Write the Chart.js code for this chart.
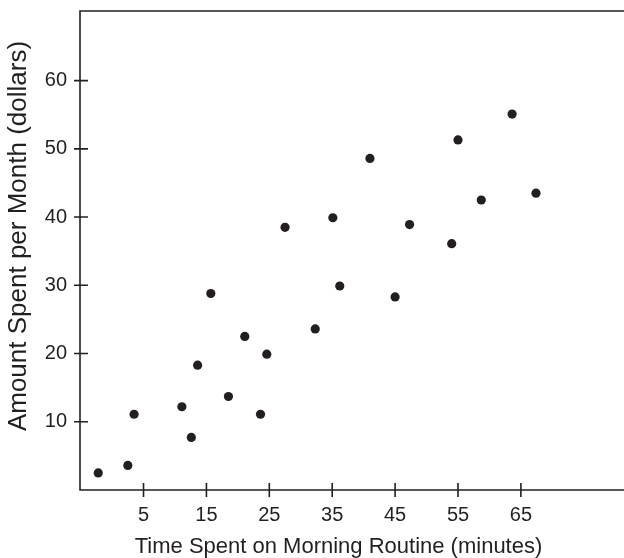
<!DOCTYPE html>
<html lang="en">
<head>
  <meta charset="UTF-8">
  <title>Morning Routine vs Amount Spent</title>
  <script src="https://cdn.jsdelivr.net/npm/chart.js"></script>
  <style>
    html, body {
      margin: 0;
      padding: 0;
      background: #ffffff;
      overflow: hidden;
    }
    .chart-box {
      position: relative;
      width: 624px;
      height: 558px;
    }
  </style>
</head>
<body>
  <div class="chart-box">
    <canvas id="scatterChart"></canvas>
  </div>

  <script>
    // Data
    const minutes = [-2.2, 2.5, 3.5, 11.1, 12.6, 13.6, 15.7, 18.5, 21.1, 23.6, 24.6, 27.5,
                     32.3, 35.1, 36.2, 41.0, 45.0, 47.3, 54.0, 55.0, 58.7, 63.6, 67.4];
    const dollars = [2.5, 3.6, 11.1, 12.2, 7.7, 18.3, 28.8, 13.7, 22.5, 11.1, 19.9, 38.5,
                     23.6, 39.9, 29.9, 48.6, 28.3, 38.9, 36.1, 51.3, 42.5, 55.1, 43.5];
    const xTicks = [5, 15, 25, 35, 45, 55, 65];
    const yTicks = [10, 20, 30, 40, 50, 60];
    const yTitle = 'Amount Spent per Month (dollars)';

    const ink = '#231f20';
    const fontFamily = '"Liberation Sans", Arial, sans-serif';

    const points = minutes.map((m, i) => ({ x: m, y: dollars[i] }));

    // open frame (left, top, bottom running to the edge), crossing ticks, y title
    const framePlugin = {
      id: 'frame',
      afterDraw(chart) {
        const { ctx, chartArea } = chart;
        const xs = chart.scales.x;
        const ys = chart.scales.y;
        const { left, top, bottom } = chartArea;
        const edge = chart.width;
        ctx.save();
        ctx.strokeStyle = ink;
        ctx.lineWidth = 1.6;
        ctx.beginPath();
        ctx.moveTo(edge, top);
        ctx.lineTo(left, top);
        ctx.lineTo(left, bottom);
        ctx.lineTo(edge, bottom);
        ctx.stroke();

        ctx.beginPath();
        xTicks.forEach(v => {
          const px = xs.getPixelForValue(v);
          ctx.moveTo(px, bottom - 7);
          ctx.lineTo(px, bottom + 7);
        });
        yTicks.forEach(v => {
          const py = ys.getPixelForValue(v);
          ctx.moveTo(left - 6, py);
          ctx.lineTo(left + 8, py);
        });
        ctx.stroke();

        // y title, a little above the middle of the axis like the original
        ctx.translate(19, 236);
        ctx.rotate(-Math.PI / 2);
        ctx.fillStyle = ink;
        ctx.font = '26px ' + fontFamily;
        ctx.textAlign = 'center';
        ctx.textBaseline = 'middle';
        ctx.fillText(yTitle, 0, 0);
        ctx.restore();
      }
    };

    const noPad = s => {
      s.paddingTop = 0;
      s.paddingBottom = 0;
      s.paddingLeft = 0;
      s.paddingRight = 0;
    };

    new Chart(document.getElementById('scatterChart'), {
      type: 'scatter',
      data: {
        datasets: [{
          data: points,
          pointRadius: 4.6,
          pointHoverRadius: 4.6,
          pointBackgroundColor: ink,
          pointBorderWidth: 0
        }]
      },
      options: {
        responsive: true,
        maintainAspectRatio: false,
        animation: false,
        layout: { padding: { top: 11, left: 0, right: 27, bottom: 0 } },
        plugins: {
          legend: { display: false },
          tooltip: { enabled: false }
        },
        scales: {
          x: {
            type: 'linear',
            min: -5.1,
            max: 77.1,
            border: { display: false },
            grid: { display: false, drawTicks: false },
            afterBuildTicks: s => { s.ticks = xTicks.map(v => ({ value: v })); },
            afterFit: s => { s.height = 68; noPad(s); },
            ticks: {
              color: ink,
              padding: 13,
              maxRotation: 0,
              font: { family: fontFamily, size: 20 }
            },
            title: {
              display: true,
              text: 'Time Spent on Morning Routine (minutes)',
              color: ink,
              padding: { top: 0, bottom: -2 },
              font: { family: fontFamily, size: 22 }
            }
          },
          y: {
            type: 'linear',
            min: 0,
            max: 70.2,
            border: { display: false },
            grid: { display: false, drawTicks: false },
            afterBuildTicks: s => { s.ticks = yTicks.map(v => ({ value: v })); },
            afterFit: s => { s.width = 80; noPad(s); },
            ticks: {
              color: ink,
              padding: 13,
              font: { family: fontFamily, size: 20 }
            }
          }
        }
      },
      plugins: [framePlugin]
    });
  </script>
</body>
</html>
